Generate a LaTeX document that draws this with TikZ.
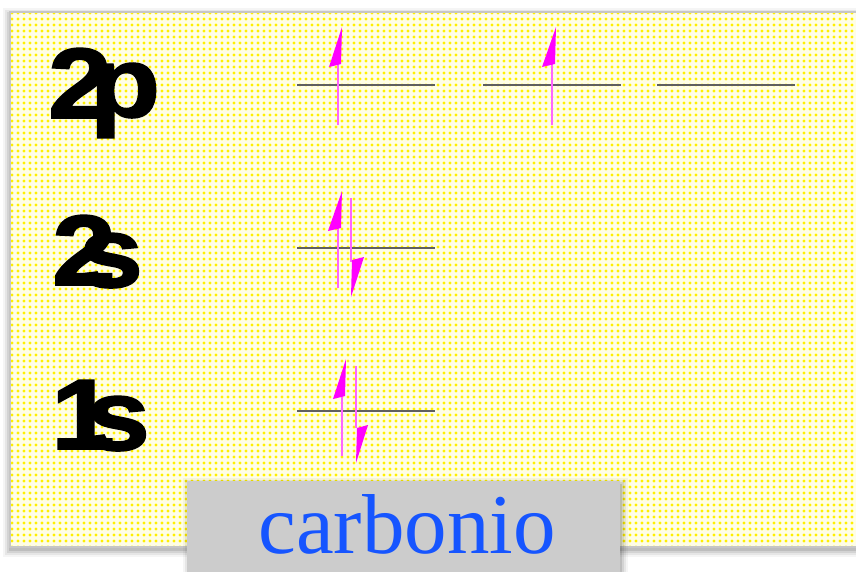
\documentclass[tikz,border=0pt]{standalone}
\usepackage{fontspec}
\setmainfont{Liberation Serif}
\newfontfamily\labfont{Liberation Sans}[BoldFeatures={FakeBold=1.6}]
\usetikzlibrary{patterns.meta}
\definecolor{panelbg}{RGB}{255,254,230}
\definecolor{dotyel}{RGB}{255,240,0}
\definecolor{mag}{RGB}{255,0,255}
\definecolor{shaftc}{RGB}{255,100,255}
\definecolor{levelc}{RGB}{95,95,95}
\definecolor{labelbg}{RGB}{204,204,204}
\definecolor{labelfg}{RGB}{22,85,255}
\begin{document}
\begin{tikzpicture}[x=1pt,y=-1pt,
  level/.style={draw=levelc,line width=1.3pt},
  spinshaft/.style={draw=shaftc,line width=1.6pt},
  spinhead/.style={fill=mag},
  orb/.style={font=\labfont\bfseries\fontsize{100}{100}\selectfont, inner sep=0, anchor=base, xscale=1.15}]
\useasboundingbox (0,0) rectangle (856,571);
\fill[white] (0,0) rectangle (856,571);
% panel shadow
\foreach \i/\o in {7/0.04,5/0.06,3/0.08,1/0.10}
  \fill[black,opacity=\o] (10-\i,12-\i+3) rectangle (870,547+\i+3);
% panel
\fill[panelbg] (10,12) rectangle (870,547);
\fill[pattern={Dots[radius=1.6pt,distance=6pt]}, pattern color=dotyel] (10,12) rectangle (870,547);
\draw[gray!45, line width=2pt] (10,12) rectangle (870,547);
% orbital labels
\node[orb] (twoA) at (80,118) {2};
\node[orb] (pA) at (125,117) {p};
\node[orb] (twoB) at (84,285) {2};
\node[orb] (sB) at (111,287) {s};
\node[orb] (oneC) at (83,449) {1};
\node[orb] (sC) at (118,450) {s};
% levels
\draw[level] (297,85) -- (435,85);
\draw[level] (483,85) -- (621,85);
\draw[level] (657,85) -- (795,85);
\draw[level] (297,248) -- (435,248);
\draw[level] (297,411) -- (435,411);
% spins 2p
\draw[spinshaft] (338,125) -- (338,63);
\fill[spinhead] (342,27) -- (329,67) -- (341,64) -- cycle;
\draw[spinshaft] (552,125) -- (552,63);
\fill[spinhead] (556,27) -- (542,67) -- (555,64) -- cycle;
% spins 2s
\draw[spinshaft] (338,288) -- (338,228);
\fill[spinhead] (342,191) -- (328,231) -- (341,228) -- cycle;
\draw[spinshaft] (351,198) -- (351,262);
\fill[spinhead] (351,297) -- (364,257) -- (352,260) -- cycle;
% spins 1s
\draw[spinshaft] (342,456) -- (342,396);
\fill[spinhead] (346,359) -- (333,399) -- (345,396) -- cycle;
\draw[spinshaft] (356,366) -- (356,428);
\fill[spinhead] (356,463) -- (368,425) -- (357,428) -- cycle;
% label box
\foreach \i/\o in {8/0.04,6/0.06,4/0.08,2/0.10}
  \fill[black,opacity=\o] (187-\i+4,481-\i+5) rectangle (620+\i,580);
\node[fill=labelbg, inner sep=0, minimum width=433pt, minimum height=95pt, anchor=north west] (labbox) at (187,481) {};
\node[font=\fontsize{85}{85}\selectfont, text=labelfg, inner sep=0, anchor=base] (labtext) at (407,553) {carbonio};
\end{tikzpicture}
\end{document}
